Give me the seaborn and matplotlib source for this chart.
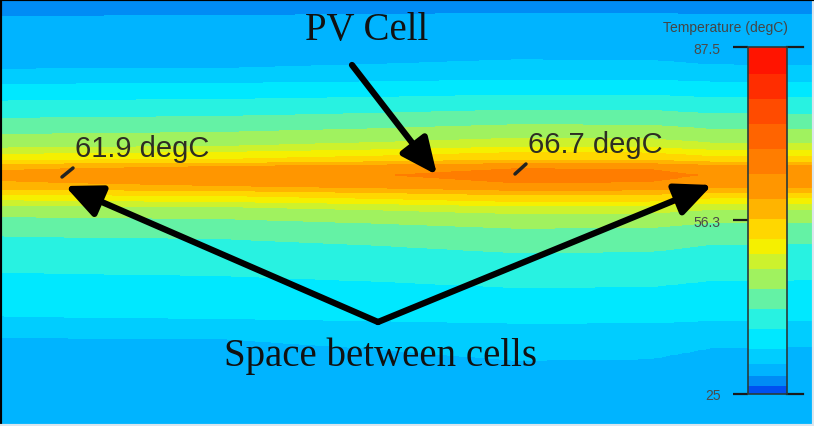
import numpy as np
import pandas as pd
import matplotlib
matplotlib.use("Agg")
import matplotlib.pyplot as plt
from matplotlib.colors import ListedColormap, BoundaryNorm
from matplotlib.lines import Line2D
import matplotlib.transforms as mtransforms
import seaborn as sns

# Vertical temperature profile through the module (pixel row from top, degC)
profile_rows = [0, 16, 42, 69, 84, 100, 117, 133, 147, 153, 160, 164, 167, 176,
                187, 192, 197, 203, 208, 220, 240, 277, 320, 340, 427]
profile_temps = [27.3, 28.3, 29.3, 30.4, 33.1, 36.7, 40.3, 43.9, 47.5, 50.2, 52.9,
                 56.5, 60.1, 62.6, 60.1, 56.5, 52.9, 50.2, 47.5, 43.9, 40.3, 36.7,
                 33.1, 30.4, 29.0]

# Centre-line (cell) temperature along the module (pixel column, degC)
cell_cols = [0, 65, 220, 380, 515, 650, 712, 814]
cell_temps = [61.4, 61.9, 62.6, 64.5, 66.7, 66.4, 64.2, 64.0]
ambient = 27.0

# Contour levels of the temperature legend
level_bounds = [25, 26.5, 28.3, 30.4, 33.1, 36.7, 40.3, 43.9, 47.5, 50.2, 52.9,
                56.5, 60.1, 64.6, 69.1, 73.6, 78.1, 82.6, 87.5]
level_colors = ["#0050f0", "#008cf5", "#00b4ff", "#00cdff", "#00e8ff", "#28f2e1",
                "#64f2a5", "#a0f25f", "#cdf22d", "#f5f000", "#ffd700", "#ffb400",
                "#ff9600", "#ff7d00", "#ff6400", "#ff4b00", "#ff2d00", "#ff1400"]
tick_values = [25, 56.3, 87.5]
tick_labels = ["25", "56.3", "87.5"]

W, H = 814, 427

# Build the temperature field on a pixel grid
nx, ny = 204, 427
yc = np.arange(ny) + 0.5
xc = (np.arange(nx) + 0.5) * W / nx
row_t = np.interp(yc, profile_rows, profile_temps)
col_t = np.interp(xc, cell_cols, cell_temps)
peak = max(profile_temps)
scale = (col_t - ambient) / (peak - ambient)
field = ambient + (row_t[:, None] - ambient) * scale[None, :]
df = pd.DataFrame(field)

cmap = ListedColormap(level_colors)
norm = BoundaryNorm(level_bounds, cmap.N)

fig = plt.figure(figsize=(W / 100, H / 100), dpi=100)
ax = fig.add_axes([0, 0, 1, 1])
cax = fig.add_axes([748 / W, 1 - 395 / H, 39 / W, 347 / H])

sns.heatmap(df, ax=ax, cmap=cmap, norm=norm, cbar=True, cbar_ax=cax,
            cbar_kws=dict(spacing="proportional", ticks=tick_values),
            xticklabels=False, yticklabels=False)

ax.set_xlabel("")
ax.set_ylabel("")
for side, sp in ax.spines.items():
    sp.set_visible(True)
    sp.set_linewidth(3)
    sp.set_color("black" if side in ("left", "top") else "#dbe6ee")

cb = ax.collections[0].colorbar
cb.outline.set_linewidth(1.2)
cb.outline.set_edgecolor("#2a3a3a")
cb.set_ticks(tick_values)
cb.set_ticklabels(tick_labels)
cb.minorticks_off()
cax.yaxis.set_ticks_position("left")
cax.tick_params(axis="y", which="major", length=10.8, width=1.6, color="#1a1a1a",
                pad=9, labelsize=10, labelcolor="#4a4a4a")
cax.tick_params(axis="y", which="minor", length=0)
for lab in cax.get_yticklabels():
    lab.set_fontfamily("Liberation Sans")

# Extend the end ticks to the right of the bar
blend = mtransforms.blended_transform_factory(cax.transAxes, cax.transData)
for v in (tick_values[0], tick_values[-1]):
    cax.plot([1.0, 1.42], [v, v], transform=blend, clip_on=False,
             color="#1a1a1a", lw=1.6)

fig.text(725 / W, 1 - 28 / H, "Temperature (degC)", ha="center", va="center",
         fontsize=10, color="#454545", family="Liberation Sans")


def fpos(px, py):
    return (px / W, 1 - py / H)


serif = "Liberation Serif"
sans = "Liberation Sans"
fig.text(*fpos(367, 40), "PV Cell", ha="center", va="baseline", fontsize=28,
         family=serif, color="#111111")
fig.text(*fpos(380, 366), "Space between cells", ha="center", va="baseline",
         fontsize=28, family=serif, color="#111111")
fig.text(*fpos(75, 157), "61.9 degC", ha="left", va="baseline", fontsize=21,
         family=sans, color="#2d2d23")
fig.text(*fpos(528, 153), "66.7 degC", ha="left", va="baseline", fontsize=21,
         family=sans, color="#2d2d23")

# Short leader ticks at the probed points
for (x0, y0), (x1, y1) in [((62, 178), (73, 169)), ((515, 175), (526, 165))]:
    fig.add_artist(Line2D([x0 / W, x1 / W], [1 - y0 / H, 1 - y1 / H],
                          transform=fig.transFigure, color="#222222", lw=2.5,
                          solid_capstyle="round"))

arrow = dict(arrowstyle="-|>,head_length=1.1,head_width=0.5", lw=4.5,
             color="black", shrinkA=0, shrinkB=0, mutation_scale=20,
             capstyle="round", joinstyle="round")
ax.annotate("", xy=fpos(437, 176), xytext=fpos(352, 66),
            xycoords="figure fraction", textcoords="figure fraction",
            arrowprops=arrow)
ax.annotate("", xy=fpos(65, 187), xytext=fpos(378, 323),
            xycoords="figure fraction", textcoords="figure fraction",
            arrowprops=arrow)
ax.annotate("", xy=fpos(712, 186), xytext=fpos(378, 323),
            xycoords="figure fraction", textcoords="figure fraction",
            arrowprops=arrow)

fig.savefig("out.png", dpi=100)
